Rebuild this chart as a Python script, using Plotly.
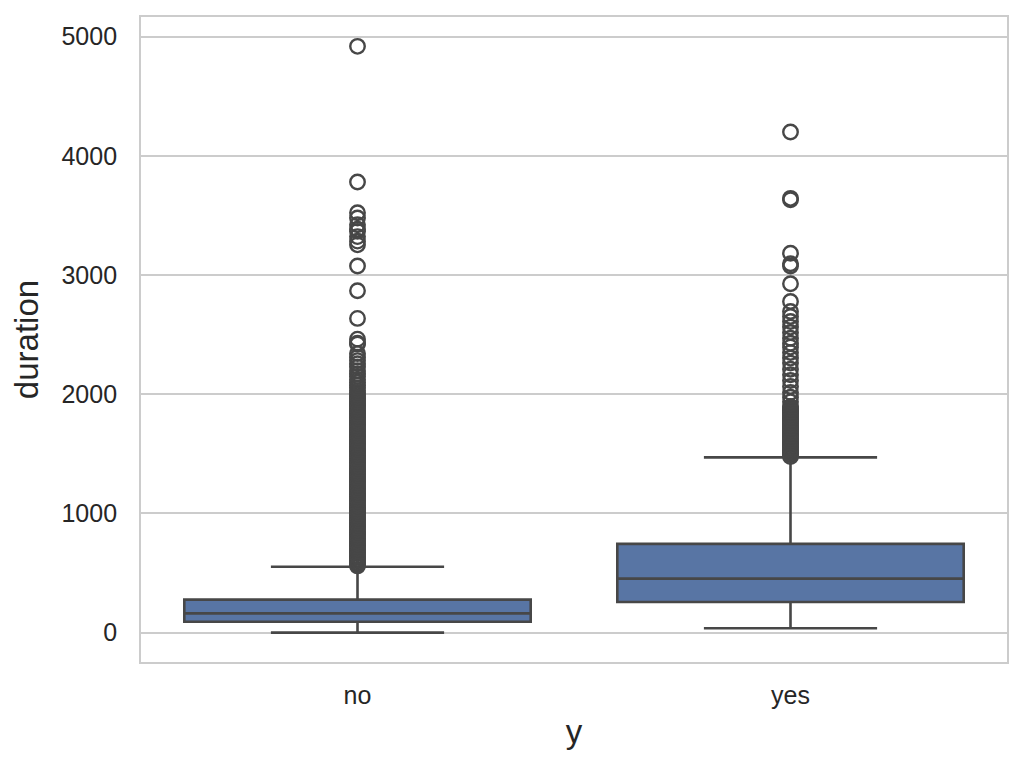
import plotly.graph_objects as go

categories = ["no", "yes"]

# box statistics
q1_vals = [92, 257]
median_vals = [162, 453]
q3_vals = [277, 745]
lower_fence = [0, 37]
upper_fence = [553, 1470]

# outliers (dense regions estimated)
outliers_no = [
    4918, 3780, 3522, 3478, 3422, 3384, 3366, 3322, 3284, 3253, 3076, 2868, 2636,
    2462, 2429, 2420, 2341, 2310, 2282, 2256, 2228, 2197, 2170, 2149, 2122, 2098,
    2075, 2052, 2030, 2012,
    1995, 1980, 1966, 1951, 1937, 1922, 1908, 1893, 1879, 1864,
    1850, 1835, 1821, 1806, 1792, 1777, 1763, 1748, 1734, 1719,
    1705, 1690, 1676, 1661, 1647, 1632, 1618, 1603, 1589, 1574,
    1560, 1545, 1531, 1516, 1502, 1487, 1473, 1458, 1444, 1429,
    1415, 1400, 1386, 1371, 1357, 1342, 1328, 1313, 1299, 1284,
    1270, 1255, 1241, 1226, 1212, 1197, 1183, 1168, 1154, 1139,
    1125, 1110, 1096, 1081, 1067, 1052, 1038, 1023, 1009, 994,
    980, 965, 951, 936, 922, 907, 893, 878, 864, 849,
    835, 820, 806, 791, 777, 762, 748, 733, 719, 704,
    690, 675, 661, 646, 632, 617, 603, 588, 574, 560,
]
outliers_yes = [
    4199, 3643, 3631, 3183, 3094, 3076, 2926, 2778,
    2694, 2652, 2610, 2563, 2518, 2470, 2428, 2395, 2350, 2303, 2261, 2210,
    2163, 2115, 2065, 2015, 1975, 1936,
    1897, 1884, 1870, 1857, 1843, 1830, 1816, 1803, 1790, 1776, 1763, 1749,
    1736, 1722, 1709, 1696, 1682, 1669, 1655, 1642, 1628, 1615, 1602, 1588,
    1575, 1561, 1548, 1534, 1521, 1508, 1494, 1478,
]

box_fill = "#5875a4"
line_col = "#474747"
grid_col = "#cccccc"
font_fam = "Liberation Sans, Arial, sans-serif"

fig = go.Figure()

fig.add_trace(go.Box(
    x=categories,
    q1=q1_vals, median=median_vals, q3=q3_vals,
    lowerfence=lower_fence, upperfence=upper_fence,
    fillcolor=box_fill,
    line=dict(color=line_col, width=2.6),
    width=0.8,
    whiskerwidth=0.5,
    boxpoints=False,
    showlegend=False,
    hoverinfo="skip",
))

outlier_groups = {"no": outliers_no, "yes": outliers_yes}
for cat, vals in outlier_groups.items():
    fig.add_trace(go.Scatter(
        x=[cat] * len(vals),
        y=vals,
        mode="markers",
        marker=dict(symbol="circle-open", size=14.5, color=line_col,
                    line=dict(width=2.4, color=line_col)),
        showlegend=False,
        hoverinfo="skip",
    ))

fig.update_layout(
    width=1024, height=768,
    paper_bgcolor="white", plot_bgcolor="white",
    margin=dict(l=133, r=25, t=9, b=114, autoexpand=False),
    font=dict(family=font_fam, color="#262626"),
    showlegend=False,
)

fig.update_xaxes(
    type="category",
    categoryorder="array", categoryarray=categories,
    range=[-0.5, 1.5],
    showgrid=False,
    showline=True, linecolor=grid_col, linewidth=1.8, mirror=True,
    ticks="", ticklabelstandoff=10,
    tickfont=dict(size=25, family=font_fam, color="#262626"),
    title=dict(text="y", font=dict(size=33, family=font_fam, color="#262626"), standoff=12),
    zeroline=False,
)

fig.update_yaxes(
    range=[-246, 5164],
    tickvals=[0, 1000, 2000, 3000, 4000, 5000],
    ticktext=["0", "1000", "2000", "3000", "4000", "5000"],
    showgrid=True, gridcolor=grid_col, gridwidth=1.6,
    showline=True, linecolor=grid_col, linewidth=1.8, mirror=True,
    ticks="", ticklabelstandoff=17,
    tickfont=dict(size=25, family=font_fam, color="#262626"),
    title=dict(text="duration", font=dict(size=33, family=font_fam, color="#262626"), standoff=13),
    zeroline=False,
)

fig.write_html("out.html")
